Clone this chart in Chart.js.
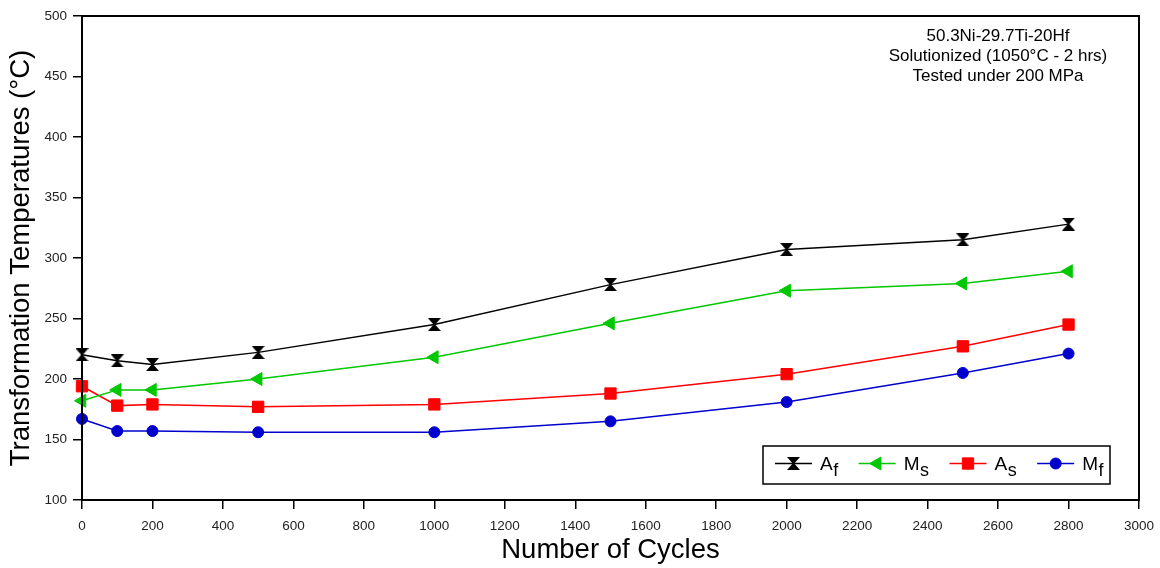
<!DOCTYPE html>
<html>
<head>
<meta charset="utf-8">
<script src="https://cdn.jsdelivr.net/npm/chart.js@4/dist/chart.umd.min.js"></script>
<style>
  html, body { margin: 0; padding: 0; background: #fff; }
  #c { display: block; }
</style>
</head>
<body>
<canvas id="c" width="1160" height="568"></canvas>
<script>
// Cycle counts and transformation temperatures (°C)
const cycles   = [0, 100, 200, 500, 1000, 1500, 2000, 2500, 2800];
const afTemps  = [220, 215, 212, 222, 245, 278, 307, 315, 328];
const msTemps  = [182, 191, 191, 200, 218, 246, 273, 279, 289];
const asTemps  = [194, 178, 179, 177, 179, 188, 204, 227, 245];
const mfTemps  = [167, 157, 157, 156, 156, 165, 181, 205, 221];

// Legend symbols: main letter plus subscript
const symbols    = ['A', 'M', 'A', 'M'];
const subscripts = ['f', 's', 's', 'f'];

const noteLines = ['50.3Ni-29.7Ti-20Hf', 'Solutionized (1050°C - 2 hrs)', 'Tested under 200 MPa'];
const xTitle = 'Number of Cycles';
const yTitle = 'Transformation Temperatures (°C)';

const FONT = "'Liberation Sans', Arial, Helvetica, sans-serif";
const GREEN = 'rgb(0,200,0)';
const RED = 'rgb(255,0,0)';
const BLUE = 'rgb(0,0,205)';

// Hourglass marker (two filled triangles tip to tip)
function hourglass(w, h, color) {
  const c = document.createElement('canvas');
  c.width = w; c.height = h;
  const g = c.getContext('2d');
  g.fillStyle = color;
  g.beginPath();
  g.moveTo(0, 0);
  g.lineTo(w, 0);
  g.lineTo(w / 2 + 0.8, h / 2);
  g.lineTo(w, h);
  g.lineTo(0, h);
  g.lineTo(w / 2 - 0.8, h / 2);
  g.closePath();
  g.fill();
  return c;
}
const hourglassMark = hourglass(13, 13, '#000');

const toPoints = (ys) => cycles.map((x, i) => ({ x, y: ys[i] }));

const datasets = [
  { data: toPoints(afTemps), borderColor: '#000', backgroundColor: '#000',
    pointStyle: hourglassMark, pointRadius: 7, pointBorderWidth: 0 },
  { data: toPoints(msTemps), borderColor: GREEN, backgroundColor: GREEN,
    pointStyle: 'triangle', pointRotation: -90, pointRadius: 7.5, pointBorderWidth: 1 },
  { data: toPoints(asTemps), borderColor: RED, backgroundColor: RED,
    pointStyle: 'rect', pointRadius: 8, pointBorderWidth: 1 },
  { data: toPoints(mfTemps), borderColor: BLUE, backgroundColor: BLUE,
    pointStyle: 'circle', pointRadius: 5.5, pointBorderWidth: 1 }
].map(d => Object.assign({
  borderWidth: 1.5, tension: 0, clip: false, pointHoverRadius: d.pointRadius,
  pointBackgroundColor: d.backgroundColor, pointBorderColor: d.borderColor
}, d));

// Box around the plot area
const framePlugin = {
  id: 'frame',
  afterDraw(chart) {
    const { ctx, chartArea: a } = chart;
    ctx.save();
    ctx.strokeStyle = '#000';
    ctx.lineWidth = 2;
    ctx.strokeRect(a.left, a.top, a.right - a.left, a.bottom - a.top);
    ctx.restore();
  }
};

// Sample description in the upper right corner
const notePlugin = {
  id: 'note',
  afterDraw(chart) {
    const { ctx } = chart;
    ctx.save();
    ctx.fillStyle = '#000';
    ctx.font = '17px ' + FONT;
    ctx.textAlign = 'center';
    ctx.textBaseline = 'middle';
    noteLines.forEach((t, i) => ctx.fillText(t, 998, 36 + i * 20));
    ctx.restore();
  }
};

// Boxed legend with subscripted symbols
const legendPlugin = {
  id: 'subLegend',
  afterDraw(chart) {
    const { ctx } = chart;
    const box = { left: 763, top: 446, right: 1110, bottom: 484 };
    const cy = 463.5;
    ctx.save();
    ctx.strokeStyle = '#000';
    ctx.lineWidth = 1.5;
    ctx.strokeRect(box.left, box.top, box.right - box.left, box.bottom - box.top);

    const mainFont = '19px ' + FONT;
    const subFont = '18px ' + FONT;
    let x = 775;
    chart.data.datasets.forEach((ds, i) => {
      // sample line
      ctx.strokeStyle = ds.borderColor;
      ctx.lineWidth = 1.5;
      ctx.beginPath();
      ctx.moveTo(x, cy);
      ctx.lineTo(x + 37, cy);
      ctx.stroke();
      // marker
      const mx = x + 18.5;
      if (ds.pointStyle instanceof HTMLCanvasElement) {
        const img = ds.pointStyle;
        ctx.drawImage(img, mx - img.width / 2, cy - img.height / 2);
      } else {
        ctx.fillStyle = ds.backgroundColor;
        ctx.strokeStyle = ds.borderColor;
        ctx.lineWidth = ds.pointBorderWidth;
        Chart.helpers.drawPoint(ctx, {
          pointStyle: ds.pointStyle, radius: ds.pointRadius,
          rotation: ds.pointRotation || 0, borderWidth: ds.pointBorderWidth
        }, mx, cy);
      }
      // label
      x += 37 + 8;
      ctx.fillStyle = '#000';
      ctx.textAlign = 'left';
      ctx.textBaseline = 'alphabetic';
      ctx.font = mainFont;
      ctx.fillText(symbols[i], x, cy + 6);
      x += ctx.measureText(symbols[i]).width;
      ctx.font = subFont;
      ctx.fillText(subscripts[i], x + 0.5, cy + 12);
      x += ctx.measureText(subscripts[i]).width + 21;
    });
    ctx.restore();
  }
};

new Chart(document.getElementById('c'), {
  type: 'line',
  data: { datasets },
  plugins: [framePlugin, notePlugin, legendPlugin],
  options: {
    responsive: false,
    animation: false,
    events: [],
    layout: { padding: { left: 0, top: 16, right: 21, bottom: 0 } },
    plugins: { legend: { display: false }, tooltip: { enabled: false } },
    scales: {
      x: {
        type: 'linear', min: 0, max: 3000,
        ticks: { stepSize: 200, autoSkip: false, maxRotation: 0, color: '#222',
                 font: { family: FONT, size: 13.5 }, padding: 9,
                 callback: (v) => String(v) },
        grid: { drawOnChartArea: false, drawTicks: true, tickLength: 9,
                color: '#000', lineWidth: 1.5 },
        border: { display: true, color: '#000', width: 2 },
        title: { display: true, text: xTitle, color: '#000',
                 font: { family: FONT, size: 27.5 }, padding: { top: 0, bottom: 1 } },
        afterFit(s) { s.height = 68; s.paddingLeft = 0; s.paddingRight = 0; }
      },
      y: {
        type: 'linear', min: 100, max: 500,
        ticks: { stepSize: 50, color: '#222', font: { family: FONT, size: 13.5 }, padding: 6,
                 callback: (v) => String(v) },
        grid: { drawOnChartArea: false, drawTicks: true, tickLength: 9,
                color: '#000', lineWidth: 1.5 },
        border: { display: true, color: '#000', width: 2 },
        title: { display: true, text: yTitle, color: '#000',
                 font: { family: FONT, size: 27.5 }, padding: { top: 5, bottom: 0 } },
        afterFit(s) { s.width = 82; s.paddingTop = 0; s.paddingBottom = 0; }
      }
    }
  }
});
</script>
</body>
</html>
